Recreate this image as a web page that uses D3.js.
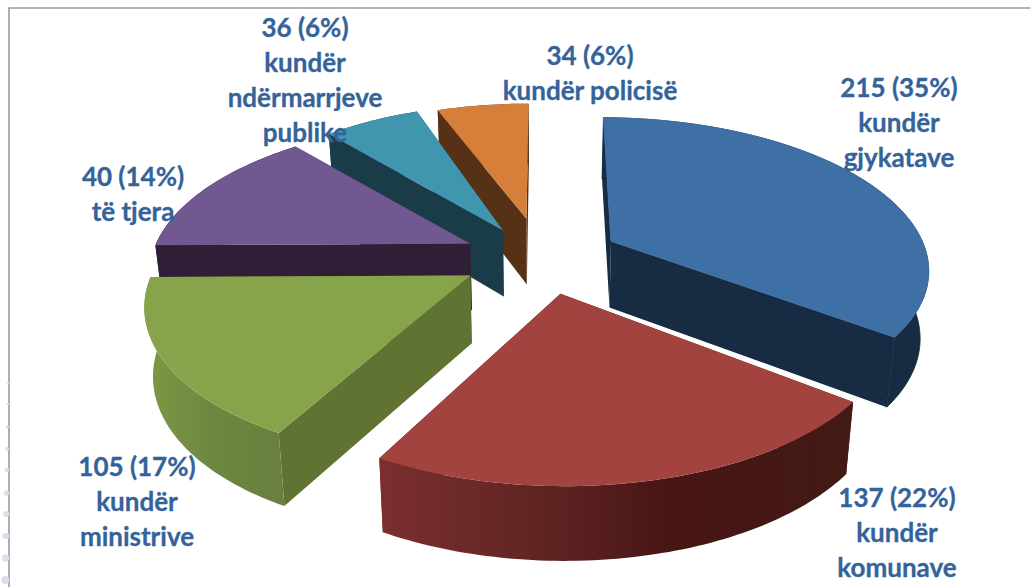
<!DOCTYPE html>
<html><head><meta charset="utf-8">
<script src="https://cdnjs.cloudflare.com/ajax/libs/d3/7.8.5/d3.min.js"></script>
<style>html,body{margin:0;padding:0;background:#fff;overflow:hidden}svg{display:block}</style>
</head><body><svg id="c" width="1030" height="587"></svg>
<script>
// ---- data ----
const categories = ["kundër gjykatave","kundër komunave","kundër ministrive","të tjera","kundër ndërmarrjeve publike","kundër policisë"];
const counts = [215,137,105,40,36,34];
const percents = [35,22,17,14,6,6];
const labelLines = [
  ["215 (35%)","kundër","gjykatave"],
  ["137 (22%)","kundër","komunave"],
  ["105 (17%)","kundër","ministrive"],
  ["40 (14%)","të tjera"],
  ["36 (6%)","kundër","ndërmarrjeve","publike"],
  ["34 (6%)","kundër policisë"]
];
const topColors  = ["#3E70A5","#A34340","#88A44A","#715890","#4096AE","#D57F3A"];
// ---- layout ----
const explode = [.25,.27,.25,.22,.21,.27];
const radiusX = [.99,.98,.975,.995,.95,.95];
const radiusY = [1.05,1.03,1.03,1.04,1.1,1.02];
const startShift = [.5,1.5,3.5,3,.5,.7];   // degrees: 3-D view distortion of slice edges
const endShift   = [1,3.5,3,2.5,.7,0];
const nudge = [[3,2],[0,0],[0,0],[-3,0],[0,0],[4,0]];
const labelPos = [[899,97],[897,507],[137,476],[133,186],[305,37],[590,65]];
const drawOrder = [5,4,3,2,0,1];
const cx=538, cy=255, Rx=320, Ry=142, persp=.16, H=67, wallPersp=.08, conv=.022;

const svg=d3.select("#c");
const defs=svg.append("defs");
function grad(id,stops){
  const g=defs.append("linearGradient").attr("id",id).attr("x1","0").attr("x2","1").attr("y1","0").attr("y2","0");
  stops.forEach(s=>g.append("stop").attr("offset",s[0]).attr("stop-color",s[1]));
}
grad("redWall",[[0,"#7C2F2F"],[.35,"#5E2422"],[.62,"#471514"],[1,"#431A15"]]);
grad("greenWall",[[0,"#7D9A45"],[.5,"#6D863F"],[1,"#697F3E"]]);
const outerFill=["#172B42","url(#redWall)","url(#greenWall)","#2E1F36","#1A3B48","#573116"];
const outerStroke=["#172B42","none","none","none","none","none"];
const topStroke=["#3E70A5","none","none","none","none","none"];
const innerFill=["#172B42","#5A2220","#607332","#2E1F36","#1A3B48","#573116"];

// frame + decoration
svg.append("path").attr("d","M9,587V8H1030").attr("fill","none").attr("stroke","#9a9aa2").attr("stroke-width",1.6);
const dotY=[383,404,427,449,470,493,514,536,558,580];
svg.selectAll("circle.d").data(dotY).join("circle")
  .attr("cx",(d,i)=>8-i*.3).attr("cy",d=>d).attr("r",(d,i)=>1+i*.33).attr("fill","#DDDDEC");

const pie=d3.pie().sort(null).value(d=>d)(percents);
const deg=Math.PI/180;
function plane(X,Y,z,n){
  const d=1-persp*Y;
  let sx=cx+Rx*X/d, sy=cy+Ry*Y/d;
  if(z){ sy+=H/(1-wallPersp*Y); sx+=(cx-sx)*conv; }
  return [sx+n[0],sy+n[1]];
}
const line=d3.line();
drawOrder.forEach(i=>{
  const p=pie[i], e=explode[i], kx=radiusX[i], ky=radiusY[i], n=nudge[i];
  const mid=(p.startAngle+p.endAngle)/2;
  const ox=e*Math.sin(mid), oy=-e*Math.cos(mid);
  const s=p.startAngle+startShift[i]*deg, t=p.endAngle+endShift[i]*deg;
  const rim=d3.range(s,t,.02).concat(t).map(a=>[ox+kx*Math.sin(a),oy-ky*Math.cos(a)]);
  const g=svg.append("g");
  const a0=rim[0], a1=rim[rim.length-1];
  [a0,a1].forEach(a=>{
    g.append("path").attr("fill",innerFill[i])
     .attr("d",line([plane(ox,oy,0,n),plane(a[0],a[1],0,n),plane(a[0],a[1],1,n),plane(ox,oy,1,n)])+"Z");
  });
  const wall=rim.map(a=>plane(a[0],a[1],0,n)).concat(rim.slice().reverse().map(a=>plane(a[0],a[1],1,n)));
  g.append("path").attr("fill",outerFill[i]).attr("stroke",outerStroke[i]).attr("stroke-width",.8).attr("d",line(wall)+"Z");
  const top=[plane(ox,oy,0,n)].concat(rim.map(a=>plane(a[0],a[1],0,n)));
  g.append("path").attr("fill",topColors[i]).attr("stroke",topStroke[i]).attr("stroke-width",1).attr("d",line(top)+"Z");
});
labelLines.forEach((lines,i)=>{
  const t=svg.append("text").attr("text-anchor","middle").attr("font-family","Lato, 'Open Sans', sans-serif")
    .attr("font-weight",700).attr("font-size",26).attr("fill","#34639A").attr("stroke","#34639A").attr("stroke-width",.3);
  lines.forEach((l,j)=>t.append("tspan").attr("x",labelPos[i][0]).attr("y",labelPos[i][1]+j*35).text(l));
});
</script></body></html>
